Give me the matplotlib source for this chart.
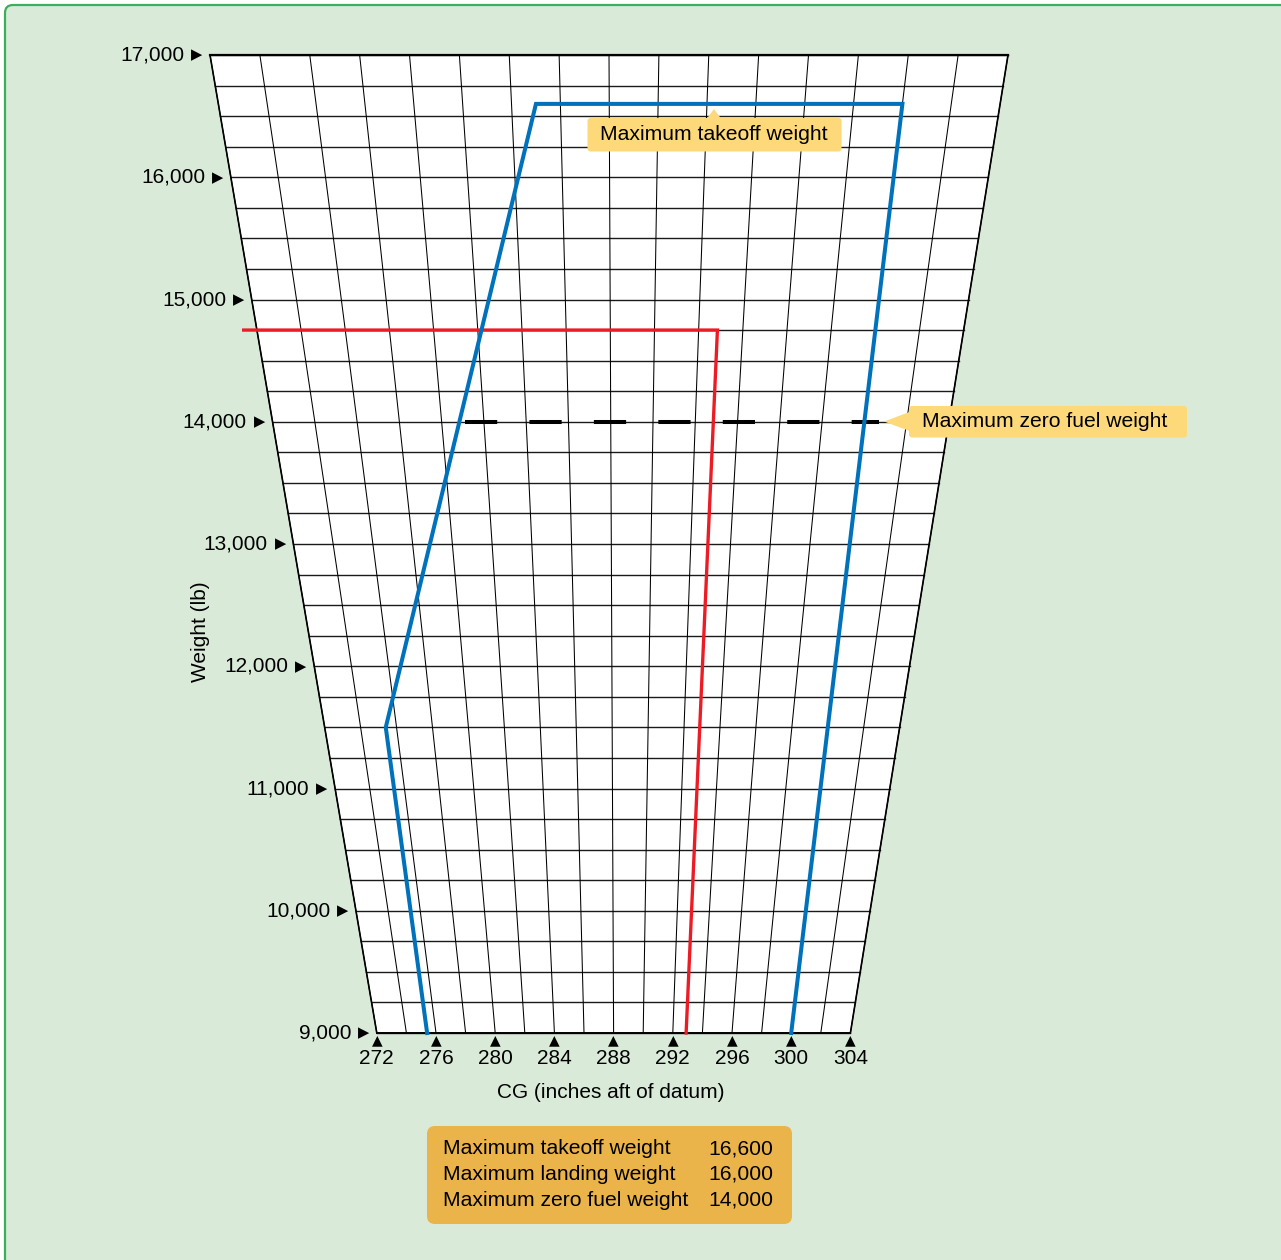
import numpy as np
import matplotlib
matplotlib.use('Agg')
import matplotlib.pyplot as plt
import matplotlib.transforms as mtransforms
from matplotlib.patches import FancyBboxPatch, Polygon

plt.rcParams['font.family'] = ['Liberation Sans', 'DejaVu Sans']

# ── data ────────────────────────────────────────────────────────────────────
CG_MIN, CG_MAX = 272, 304
W_MIN, W_MAX = 9000, 17000
CG_TICKS = [272, 276, 280, 284, 288, 292, 296, 300, 304]
W_TICKS = [9000, 10000, 11000, 12000, 13000, 14000, 15000, 16000, 17000]

# CG envelope (blue)
ENV_CG = [275.4, 275.4, 285.0, 300.0, 300.0]
ENV_W = [9000, 11500, 16600, 16600, 9000]

# landing limit (red)
LAND_CG = [271.4, 292.85, 292.9]
LAND_W = [14750, 14750, 9000]

# maximum zero fuel weight (dashed)
ZFW_CG = [281.1, 300.7]
ZFW_W = [14000, 14000]

LIMIT_NAMES = ['Maximum takeoff weight', 'Maximum landing weight',
               'Maximum zero fuel weight']
LIMIT_VALUES = [16600, 16000, 14000]

# ── geometry of the fanned grid ────────────────────────────────────────────
TOP_LEFT_U, TOP_RIGHT_U = 260.73, 314.65   # width of the top edge in bottom-edge inches


def skew(cg, w):
    cg = np.asarray(cg, dtype=float)
    w = np.asarray(w, dtype=float)
    f = (w - W_MIN) / (W_MAX - W_MIN)
    left = CG_MIN + (TOP_LEFT_U - CG_MIN) * f
    right = CG_MAX + (TOP_RIGHT_U - CG_MAX) * f
    return left + (cg - CG_MIN) / (CG_MAX - CG_MIN) * (right - left)


def px2u(px):
    return CG_MIN + (px - 376.8) / 14.8


def py2w(py):
    return W_MIN + (1033 - py) * (W_MAX - W_MIN) / 978


W_PX, H_PX = 1281, 1260
fig = plt.figure(figsize=(W_PX / 100, H_PX / 100), dpi=100)
fig.patch.set_facecolor('white')
ax = fig.add_axes([0, 0, 1, 1])
ax.set_xlim(px2u(0), px2u(W_PX))
ax.set_ylim(py2w(H_PX), py2w(0))
ax.axis('off')
ax.set_facecolor('none')

# pixel coordinates, y down
pix = mtransforms.Affine2D().scale(1 / W_PX, -1 / H_PX).translate(0, 1) + fig.transFigure

BG = '#d9ebd8'
ax.add_patch(FancyBboxPatch((5, 5), 1320, 1300, boxstyle='round,pad=0,rounding_size=8',
                            transform=pix, fc=BG, ec='#3dae5b', lw=1.6,
                            clip_on=False, zorder=0))

# white trapezoid
corners_cg = [CG_MIN, CG_MAX, CG_MAX, CG_MIN]
corners_w = [W_MIN, W_MIN, W_MAX, W_MAX]
ax.add_patch(Polygon(np.column_stack([skew(corners_cg, corners_w), corners_w]),
                     closed=True, fc='white', ec='none', zorder=1))

# grid
for w in np.arange(W_MIN, W_MAX + 1, 250):
    ax.plot(skew([CG_MIN, CG_MAX], [w, w]), [w, w], color='#1a1a1a', lw=1.0, zorder=2)
for cg in np.arange(CG_MIN, CG_MAX + 1, 2):
    ax.plot(skew([cg, cg], [W_MIN, W_MAX]), [W_MIN, W_MAX], color='black', lw=0.75, zorder=2)
ax.plot(skew([CG_MIN, CG_MIN], [W_MIN, W_MAX]), [W_MIN, W_MAX], color='black', lw=1.2, zorder=3)
ax.plot(skew([CG_MAX, CG_MAX], [W_MIN, W_MAX]), [W_MIN, W_MAX], color='black', lw=1.2, zorder=3)
ax.plot(skew([CG_MIN, CG_MAX], [W_MAX, W_MAX]), [W_MAX, W_MAX], color='black', lw=1.6, zorder=3)
ax.plot(skew([CG_MIN, CG_MAX], [W_MIN, W_MIN]), [W_MIN, W_MIN], color='black', lw=1.4, zorder=3)

# weight ticks
for w in W_TICKS:
    x0 = skew(CG_MIN, w)
    ax.annotate('\u25B6', xy=(x0, w), xytext=(-9.5, 0), textcoords='offset points',
                ha='center', va='center', fontsize=10.5, family='DejaVu Sans', zorder=4)
    ax.annotate(f'{w:,}', xy=(x0, w), xytext=(-18.5, 0), textcoords='offset points',
                ha='right', va='center', fontsize=15, zorder=4)

# CG ticks
for cg in CG_TICKS:
    x0 = skew(cg, W_MIN)
    ax.annotate('\u25B2', xy=(x0, W_MIN), xytext=(0, -5.5), textcoords='offset points',
                ha='center', va='center', fontsize=10, family='DejaVu Sans', zorder=4)
    ax.annotate(f'{cg}', xy=(x0, W_MIN), xytext=(0, -18.5), textcoords='offset points',
                ha='center', va='center', fontsize=15, zorder=4)

ax.text(611, 1092, 'CG (inches aft of datum)', transform=pix, ha='center', va='center',
        fontsize=15)
ax.text(200, 632, 'Weight (lb)', transform=pix, ha='center', va='center',
        rotation=90, fontsize=15)

# limit lines
ax.plot(skew(ENV_CG, ENV_W), ENV_W, color='#0072bc', lw=2.9, zorder=6,
        solid_joinstyle='miter')
ax.plot(skew(LAND_CG, LAND_W), LAND_W, color='#ed1c24', lw=2.4, zorder=5,
        solid_joinstyle='miter')
ax.plot(skew(ZFW_CG, ZFW_W), ZFW_W, color='black', lw=2.9, dashes=(8, 8),
        dash_capstyle='butt', zorder=5)

# callouts
YELLOW = '#fdd97a'
ax.add_patch(FancyBboxPatch((587.5, 118), 254, 33.5, boxstyle='round,pad=0,rounding_size=3',
                            transform=pix, fc=YELLOW, ec='none', clip_on=False, zorder=7))
ax.add_patch(Polygon([(707, 118.5), (714, 109), (721, 118.5)], closed=True,
                     transform=pix, fc=YELLOW, ec='none', clip_on=False, zorder=7))
ax.text(714, 134.5, LIMIT_NAMES[0], transform=pix, ha='center', va='center',
        fontsize=15.2, zorder=8)

ax.add_patch(FancyBboxPatch((909, 406), 278, 31.5, boxstyle='round,pad=0,rounding_size=3',
                            transform=pix, fc=YELLOW, ec='none', clip_on=False, zorder=7))
ax.add_patch(Polygon([(909.5, 412), (884, 421.5), (909.5, 431)], closed=True,
                     transform=pix, fc=YELLOW, ec='none', clip_on=False, zorder=7))
ax.text(1045, 421.5, LIMIT_NAMES[2], transform=pix, ha='center', va='center',
        fontsize=15.2, zorder=8)

# limits table
ax.add_patch(FancyBboxPatch((427, 1126), 365, 98, boxstyle='round,pad=0,rounding_size=8',
                            transform=pix, fc='#eab44a', ec='none', clip_on=False, zorder=7))
for i, (name, val) in enumerate(zip(LIMIT_NAMES, LIMIT_VALUES)):
    y = 1149 + i * 25.5
    ax.text(443, y, name, transform=pix, ha='left', va='center', fontsize=15.2, zorder=8)
    ax.text(773, y, f'{val:,}', transform=pix, ha='right', va='center', fontsize=15.2, zorder=8)

fig.savefig('out.png', dpi=100, facecolor=fig.get_facecolor())
